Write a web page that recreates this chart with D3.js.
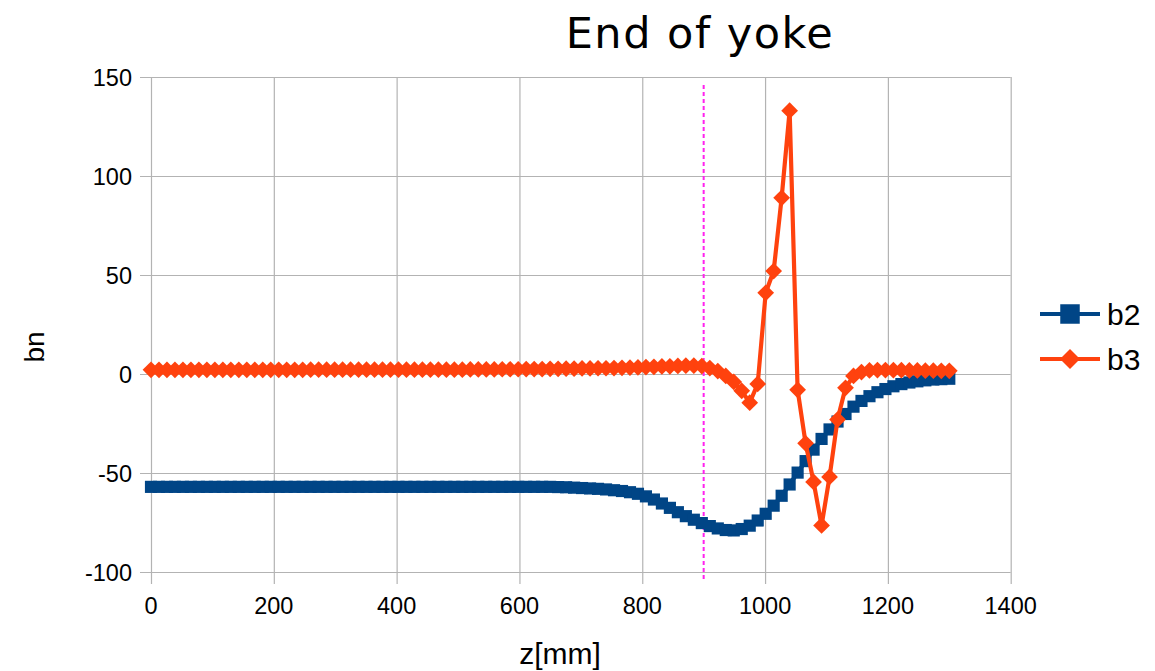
<!DOCTYPE html>
<html>
<head>
<meta charset="utf-8">
<script src="https://cdn.jsdelivr.net/npm/d3@7"></script>
<style>
  body { margin: 0; background: #fff; }
  svg text { font-family: "Liberation Sans", Arial, sans-serif; fill: #000; }
</style>
</head>
<body>
<svg id="chart" width="1155" height="671"></svg>
<script>
// z positions in mm (101 samples, 13 mm apart)
var zStep = 13;
var b2 = [
  -57.0, -57.0, -57.0, -57.0, -57.0, -57.0, -57.0, -57.0, -57.0, -57.0,
  -57.0, -57.0, -57.0, -57.0, -57.0, -57.0, -57.0, -57.0, -57.0, -57.0,
  -57.0, -57.0, -57.0, -57.0, -57.0, -57.0, -57.0, -57.0, -57.0, -57.0,
  -57.0, -57.0, -57.0, -57.0, -57.0, -57.0, -57.0, -57.0, -57.0, -57.0,
  -57.0, -57.0, -57.0, -57.0, -57.0, -57.0, -57.0, -57.0, -57.0, -57.0,
  -57.0, -57.1, -57.2, -57.4, -57.6, -57.8, -58.0, -58.3, -58.7, -59.1,
  -59.7, -60.5, -61.8, -63.4, -65.4, -67.6, -69.8, -71.8, -73.6, -75.3,
  -76.8, -78.0, -78.8, -79.0, -78.3, -76.6, -74.0, -70.6, -66.5, -61.5,
  -55.8, -49.8, -44.0, -38.2, -32.8, -28.0, -24.0, -20.2, -16.5, -13.6,
  -11.2, -9.2, -7.6, -6.2, -5.1, -4.3, -3.7, -3.2, -2.8, -2.6,
  -2.4
];
var b3 = [
  2.1, 2.1, 2.1, 2.1, 2.1, 2.1, 2.1, 2.1, 2.1, 2.1,
  2.1, 2.1, 2.1, 2.1, 2.1, 2.1, 2.1, 2.1, 2.1, 2.1,
  2.2, 2.2, 2.2, 2.2, 2.2, 2.2, 2.2, 2.2, 2.2, 2.2,
  2.2, 2.2, 2.2, 2.2, 2.2, 2.2, 2.2, 2.2, 2.2, 2.2,
  2.3, 2.3, 2.3, 2.3, 2.4, 2.4, 2.4, 2.5, 2.5, 2.5,
  2.6, 2.6, 2.7, 2.7, 2.8, 2.8, 2.9, 2.9, 3.0, 3.1,
  3.2, 3.3, 3.5, 3.6, 3.8, 3.9, 4.1, 4.2, 4.2, 4.0,
  3.0, 1.5, -1.0, -4.0, -8.5, -14.5, -5.0, 41.0, 52.0, 89.0,
  133.0, -8.0, -35.0, -54.5, -76.5, -52.0, -23.0, -7.0, -1.0, 1.0,
  1.8, 2.0, 2.0, 1.9, 1.9, 1.8, 1.8, 1.7, 1.7, 1.6,
  1.6
];
var xTicks = [0, 200, 400, 600, 800, 1000, 1200, 1400];
var yTicks = [-100, -50, 0, 50, 100, 150];
var markerZ = 900;

var svg = d3.select('#chart');
var x = d3.scaleLinear().domain([0, 1400]).range([151, 1010.7]);
var y = d3.scaleLinear().domain([-100, 150]).range([572, 77]);

// gridlines + tick stubs
svg.append('g')
  .attr('transform', 'translate(0,572)')
  .call(d3.axisBottom(x).tickValues(xTicks).tickSize(-(572 - 77)).tickSizeOuter(0).tickFormat(''))
  .call(function (g) { g.select('.domain').remove(); })
  .call(function (g) {
    g.selectAll('.tick line').attr('stroke', '#b3b3b3').attr('stroke-width', 1.2)
      .attr('y1', 12);
  });

svg.append('g')
  .attr('transform', 'translate(151,0)')
  .call(d3.axisLeft(y).tickValues(yTicks).tickSize(-(1010.7 - 151)).tickSizeOuter(0).tickFormat(''))
  .call(function (g) { g.select('.domain').remove(); })
  .call(function (g) {
    g.selectAll('.tick line').attr('stroke', '#b3b3b3').attr('stroke-width', 1.2)
      .attr('x1', -11);
  });

// tick labels
svg.append('g').selectAll('text')
  .data(xTicks).enter().append('text')
  .attr('x', function (d) { return x(d); })
  .attr('y', 614)
  .attr('text-anchor', 'middle')
  .style('font-size', '23.5px')
  .text(function (d) { return d; });

svg.append('g').selectAll('text')
  .data(yTicks).enter().append('text')
  .attr('x', 132)
  .attr('y', function (d) { return y(d) + 8.5; })
  .attr('text-anchor', 'end')
  .style('font-size', '23.5px')
  .text(function (d) { return d; });

// vertical marker line
svg.append('line')
  .attr('x1', x(markerZ)).attr('x2', x(markerZ))
  .attr('y1', 85).attr('y2', 580)
  .attr('stroke', '#ff22ee').attr('stroke-width', 2)
  .attr('stroke-dasharray', '4,3');

var line = d3.line()
  .x(function (d, i) { return x(i * zStep); })
  .y(function (d) { return y(d); });

// square marker and diamond marker (square turned by 45 degrees)
var sq = d3.symbol().type(d3.symbolSquare).size(148);
var dia = d3.symbol().type(d3.symbolSquare).size(140);
var sqBig = d3.symbol().type(d3.symbolSquare).size(380);
var diaBig = d3.symbol().type(d3.symbolSquare).size(200);

function drawSeries(data, color, sym, rot) {
  svg.append('path')
    .datum(data)
    .attr('d', line)
    .attr('fill', 'none')
    .attr('stroke', color)
    .attr('stroke-width', 4.2)
    .attr('stroke-linejoin', 'round');
  svg.append('g').selectAll('path')
    .data(data).enter().append('path')
    .attr('transform', function (d, i) {
      return 'translate(' + x(i * zStep) + ',' + y(d) + ') rotate(' + rot + ')';
    })
    .attr('d', sym)
    .attr('fill', color);
}

drawSeries(b2, '#004586', sq, 0);
drawSeries(b3, '#ff420e', dia, 45);

// legend
var legend = [
  { name: 'b2', color: '#004586', sym: sqBig, rot: 0, y: 314 },
  { name: 'b3', color: '#ff420e', sym: diaBig, rot: 45, y: 359 }
];
var lg = svg.append('g').selectAll('g').data(legend).enter().append('g');
lg.append('line')
  .attr('x1', 1040).attr('x2', 1100)
  .attr('y1', function (d) { return d.y; }).attr('y2', function (d) { return d.y; })
  .attr('stroke', function (d) { return d.color; }).attr('stroke-width', 4);
lg.append('path')
  .attr('transform', function (d) { return 'translate(1070,' + d.y + ') rotate(' + d.rot + ')'; })
  .attr('d', function (d) { return d.sym(); })
  .attr('fill', function (d) { return d.color; });
lg.append('text')
  .attr('x', 1107).attr('y', function (d) { return d.y + 11; })
  .style('font-size', '30px')
  .text(function (d) { return d.name; });

// titles
svg.append('text')
  .attr('x', 700).attr('y', 48)
  .attr('text-anchor', 'middle')
  .style('font-family', '"DejaVu Sans", sans-serif')
  .style('font-size', '43px')
  .style('letter-spacing', '1.5px')
  .text('End of yoke');

svg.append('text')
  .attr('x', 560).attr('y', 664)
  .attr('text-anchor', 'middle')
  .style('font-size', '30px')
  .text('z[mm]');

svg.append('text')
  .attr('transform', 'translate(44,347) rotate(-90)')
  .attr('text-anchor', 'middle')
  .style('font-size', '28px')
  .text('bn');
</script>
</body>
</html>
